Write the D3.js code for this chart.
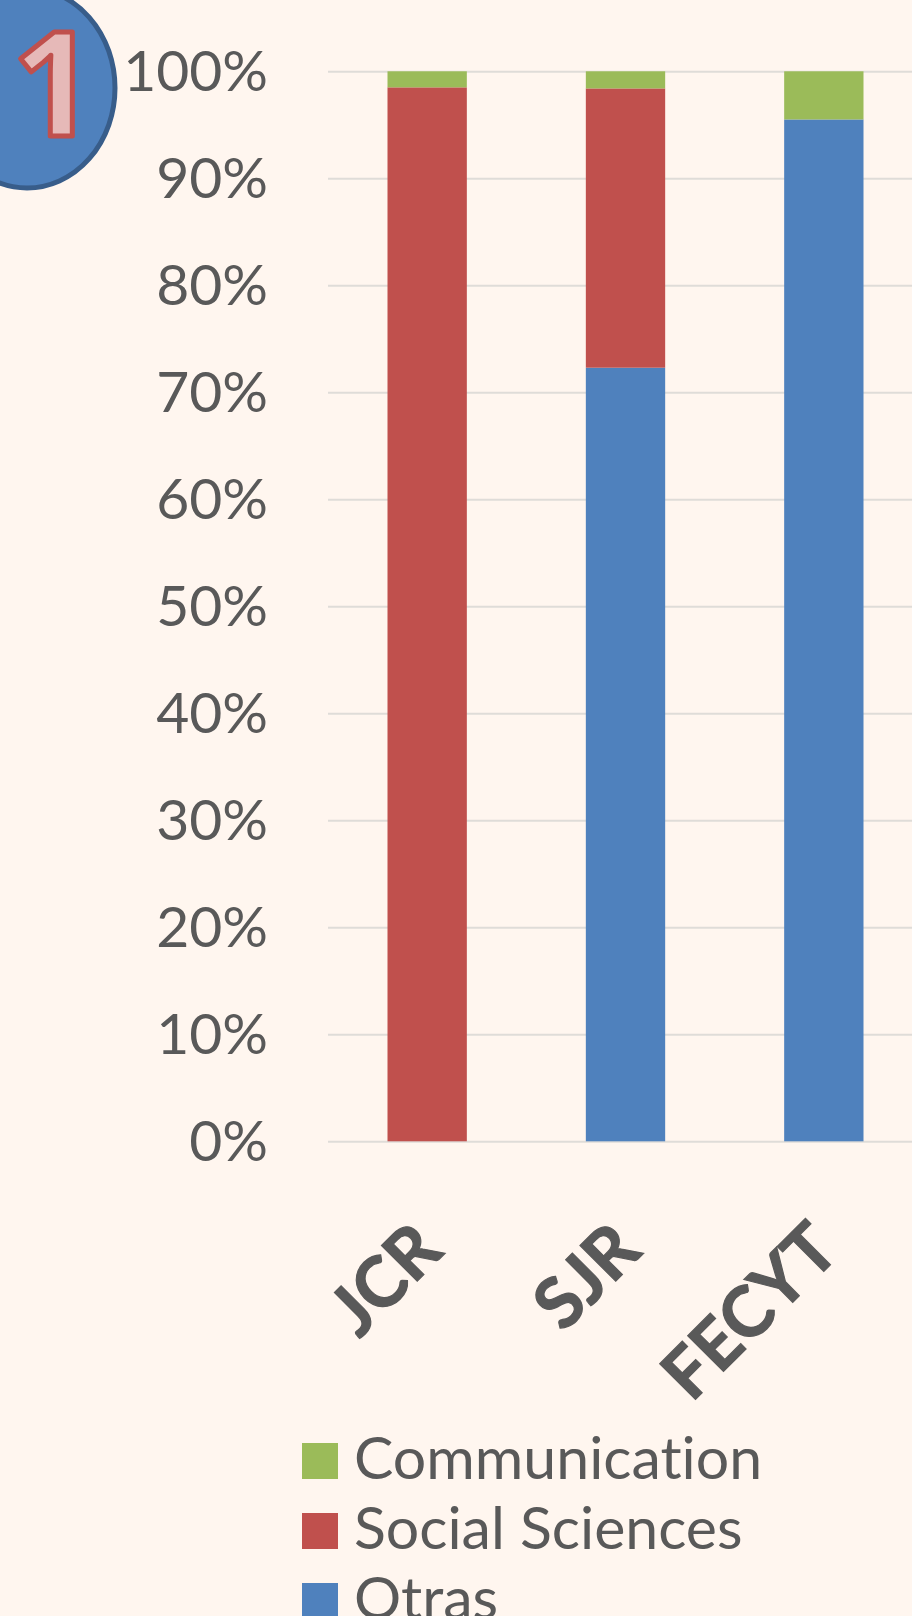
<!DOCTYPE html>
<html>
<head>
<meta charset="utf-8">
<script src="https://cdn.jsdelivr.net/npm/d3@7"></script>
<style>
	html, body { margin: 0; padding: 0; background: #fff6ef; overflow: hidden; }
	svg { display: block; }
	text { font-family: Lato, "Open Sans", sans-serif; fill: #595959; font-variant-ligatures: none; }
</style>
</head>
<body>
<div id="chart"></div>
<script>
const categories = ['JCR', 'SJR', 'FECYT']
const otras = [0, 72.3, 95.5]
const socialSciences = [98.5, 26.1, 0]
const communication = [1.5, 1.6, 4.5]
const seriesNames = ['Otras', 'Social Sciences', 'Communication']
const seriesColors = ['#4f81bd', '#c0504d', '#9bbb59']
const yTicks = [0, 10, 20, 30, 40, 50, 60, 70, 80, 90, 100]
const legendOrder = ['Communication', 'Social Sciences', 'Otras']
const badgeLabel = '1'

const width = 912
const height = 1616

const svg = d3.select('#chart')
	.append('svg')
	.attr('width', width)
	.attr('height', height)

const xScale = d3.scaleBand()
	.domain(categories)
	.range([328, 923])
	.paddingInner(0.6)
	.paddingOuter(0.3)

const yScale = d3.scaleLinear()
	.domain([0, 100])
	.range([1141.3, 71.3])

const colorScale = d3.scaleOrdinal()
	.domain(seriesNames)
	.range(seriesColors)

// gridlines + percent labels
const yAxis = d3.axisLeft(yScale)
	.tickValues(yTicks)
	.tickSize(-(923 - 328))
	.tickPadding(60)
	.tickFormat(d => d + '%')

const yG = svg.append('g')
	.attr('transform', 'translate(328,0)')
	.call(yAxis)
yG.select('.domain').remove()
yG.selectAll('line').attr('stroke', '#dfdcd8').attr('stroke-width', 2)
yG.selectAll('text')
	.attr('font-size', 57)
	.style('font-family', 'Lato')
	.attr('dy', '0.33em')

// stacked bars
const table = categories.map((c, i) => ({
	category: c,
	'Otras': otras[i],
	'Social Sciences': socialSciences[i],
	'Communication': communication[i]
}))
const stacked = d3.stack().keys(seriesNames)(table)

svg.append('g')
	.selectAll('g')
	.data(stacked)
	.join('g')
	.attr('fill', d => colorScale(d.key))
	.selectAll('rect')
	.data(d => d.filter(v => v[1] - v[0] > 0))
	.join('rect')
	.attr('x', d => xScale(d.data.category))
	.attr('y', d => yScale(d[1]))
	.attr('width', xScale.bandwidth())
	.attr('height', d => yScale(d[0]) - yScale(d[1]))

// category labels
const xAxis = d3.axisBottom(xScale).tickSize(0).tickPadding(0)
const xG = svg.append('g')
	.attr('transform', 'translate(0,1141.3)')
	.call(xAxis)
xG.select('.domain').remove()
xG.selectAll('text')
	.attr('font-size', 70)
	.attr('font-weight', 700)
	.style('font-family', 'Lato')
	.attr('stroke', '#595959')
	.attr('stroke-width', 1.2)
	.attr('text-anchor', 'end')
	.attr('y', 0)
	.attr('dy', 0)
	.attr('transform', 'translate(18,112) rotate(-45)')

// legend
const legendY = d3.scalePoint()
	.domain(legendOrder)
	.range([1479, 1619])

const legend = svg.append('g')
	.selectAll('g')
	.data(legendOrder)
	.join('g')
	.attr('transform', d => `translate(302,${legendY(d)})`)

legend.append('rect')
	.attr('x', 0)
	.attr('y', -36)
	.attr('width', 36)
	.attr('height', 36)
	.attr('fill', d => colorScale(d))

legend.append('text')
	.attr('x', 52)
	.attr('y', 0)
	.attr('font-size', 59)
	.text(d => d)

// numbered badge in the corner
svg.append('ellipse')
	.attr('cx', 27)
	.attr('cy', 88)
	.attr('rx', 88)
	.attr('ry', 100)
	.attr('fill', '#4f81bd')
	.attr('stroke', '#385d8a')
	.attr('stroke-width', 5)

svg.append('text')
	.attr('transform', 'translate(12,136)')
	.attr('font-size', 146)
	.attr('font-weight', 700)
	.style('font-family', 'Open Sans')
	.style('fill', '#e6b9b8')
	.attr('stroke', '#c0504d')
	.attr('stroke-width', 5)
	.attr('stroke-linejoin', 'round')
	.text(badgeLabel)
</script>
</body>
</html>
